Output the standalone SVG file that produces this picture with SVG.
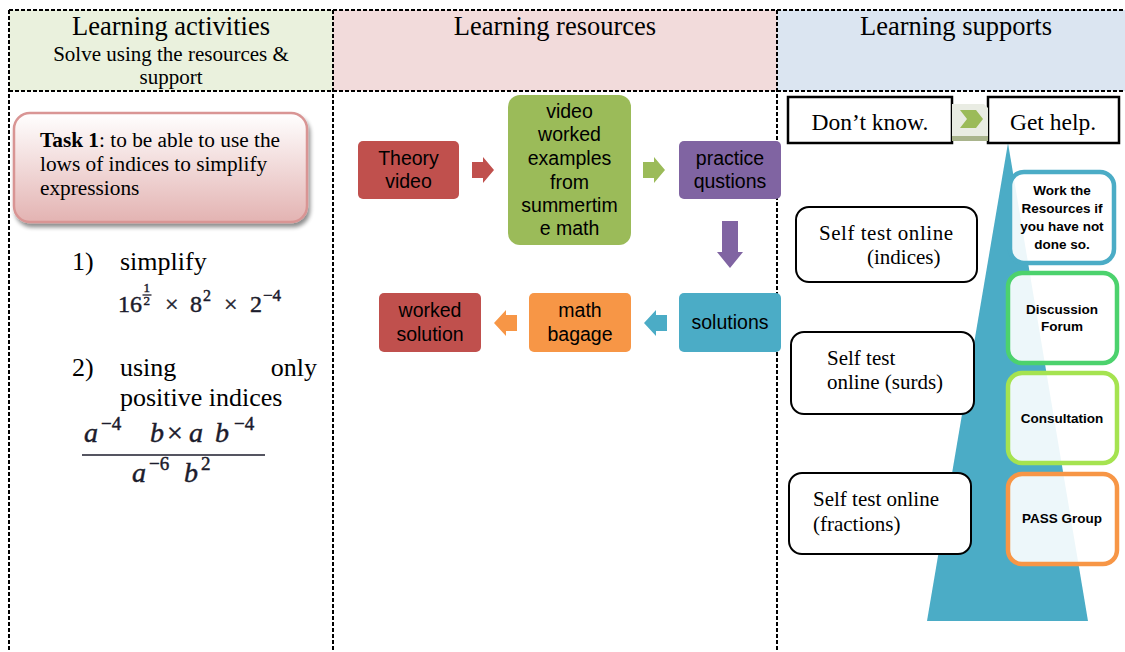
<svg xmlns="http://www.w3.org/2000/svg" width="1125" height="652" viewBox="0 0 1125 652">
<defs>
<linearGradient id="taskGrad" x1="0" y1="0" x2="0" y2="1">
<stop offset="0" stop-color="#FFFFFF"/>
<stop offset="1" stop-color="#E3B3B2"/>
</linearGradient>
<filter id="shadow" x="-10%" y="-10%" width="130%" height="140%">
<feGaussianBlur in="SourceAlpha" stdDeviation="2"/>
<feOffset dx="2" dy="4" result="b"/>
<feComponentTransfer><feFuncA type="linear" slope="0.45"/></feComponentTransfer>
<feMerge><feMergeNode/><feMergeNode in="SourceGraphic"/></feMerge>
</filter>
<style>
.grid{stroke:#000;stroke-width:2;stroke-dasharray:4 2;fill:none}
.ser{font-family:"Liberation Serif","Times New Roman",serif;fill:#000}
.sans{font-family:"Liberation Sans",Arial,sans-serif;fill:#000;font-size:19.5px;text-anchor:middle}
.bold{font-family:"Liberation Sans",Arial,sans-serif;font-weight:bold;font-size:13.5px;fill:#000;text-anchor:middle}
.hdr{font-size:26.5px;text-anchor:middle}
.math{font-family:"Liberation Serif","Times New Roman",serif;fill:#1c1c2c;stroke:#1c1c2c;stroke-width:0.45}
.stbox{fill:#fff;stroke:#000;stroke-width:2}
.sup{fill:#fff;fill-opacity:0.9;stroke-width:4.5}
</style>
</defs>

<!-- table header fills -->
<rect x="9" y="10" width="324" height="81" fill="#EAF1DD"/>
<rect x="333" y="10" width="444" height="81" fill="#F2DBDB"/>
<rect x="777" y="10" width="348" height="81" fill="#DBE5F1"/>

<!-- table grid -->
<g id="grid">
<line class="grid" x1="9" y1="10" x2="1125" y2="10"/>
<line class="grid" x1="9" y1="91" x2="1125" y2="91"/>
<line class="grid" x1="9" y1="10" x2="9" y2="652"/>
<line class="grid" x1="333" y1="10" x2="333" y2="652"/>
<line class="grid" x1="777" y1="10" x2="777" y2="652"/>
</g>

<!-- headers -->
<g id="header-activities">
<text class="ser hdr" x="171" y="35">Learning activities</text>
<text class="ser" x="171" y="61" font-size="21" text-anchor="middle">Solve using the resources &amp;</text>
<text class="ser" x="171" y="84" font-size="21" text-anchor="middle">support</text>
</g>
<g id="header-resources"><text class="ser hdr" x="555" y="35">Learning resources</text></g>
<g id="header-supports"><text class="ser hdr" x="956" y="35">Learning supports</text></g>

<!-- left column -->
<g id="task1">
<rect x="14" y="113" width="293" height="109" rx="16" fill="url(#taskGrad)" stroke="#D99594" stroke-width="2.5" filter="url(#shadow)"/>
<text class="ser" x="40" y="147" font-size="21.3"><tspan font-weight="bold">Task 1</tspan>: to be able to use the</text>
<text class="ser" x="40" y="171" font-size="21.3">lows of indices to simplify</text>
<text class="ser" x="40" y="195" font-size="21.3">expressions</text>
</g>

<g id="question1">
<text class="ser" x="72" y="270" font-size="26">1)</text>
<text class="ser" x="120" y="270" font-size="26">simplify</text>
<g class="math" font-size="24">
<text x="118" y="312">16</text>
<text x="143.5" y="292" font-size="13">1</text>
<line x1="142.5" y1="295" x2="151.5" y2="295" stroke-width="1.3"/>
<text x="143.5" y="305" font-size="13">2</text>
<text x="165" y="312">×</text>
<text x="190" y="312">8</text>
<text x="203" y="301" font-size="16">2</text>
<text x="224" y="312">×</text>
<text x="250" y="312">2</text>
<text x="263" y="301" font-size="17">−4</text>
</g>
</g>

<g id="question2">
<text class="ser" x="72" y="376" font-size="26">2)</text>
<text class="ser" x="120" y="376" font-size="26">using</text>
<text class="ser" x="317" y="376" font-size="26" text-anchor="end">only</text>
<text class="ser" x="120" y="406" font-size="26">positive indices</text>
<g class="math" font-size="28" font-style="italic">
<text x="84" y="442">a</text>
<text x="101" y="430" font-size="19" font-style="normal">−4</text>
<text x="150" y="442">b</text>
<text x="167" y="442" font-style="normal">×</text>
<text x="189" y="442">a</text>
<text x="215" y="442">b</text>
<text x="234" y="430" font-size="19" font-style="normal">−4</text>
<line x1="82" y1="455" x2="265" y2="455" stroke-width="1.6"/>
<text x="132" y="482">a</text>
<text x="149" y="470" font-size="19" font-style="normal">−6</text>
<text x="184" y="482">b</text>
<text x="201" y="470" font-size="19" font-style="normal">2</text>
</g>
</g>

<!-- middle column nodes -->
<g id="theory-video">
<rect x="358" y="141" width="101" height="58" rx="5" fill="#C0504D"/>
<text class="sans" x="408.5" y="165">Theory</text>
<text class="sans" x="408.5" y="188">video</text>
</g>
<g id="video-worked">
<rect x="508" y="95" width="123" height="150" rx="12" fill="#9BBB59"/>
<text class="sans" x="569.5" y="118">video</text>
<text class="sans" x="569.5" y="141">worked</text>
<text class="sans" x="569.5" y="165">examples</text>
<text class="sans" x="569.5" y="189">from</text>
<text class="sans" x="569.5" y="212">summertim</text>
<text class="sans" x="569.5" y="235">e math</text>
</g>
<g id="practice">
<rect x="679" y="141" width="102" height="58" rx="5" fill="#8064A2"/>
<text class="sans" x="730" y="165">practice</text>
<text class="sans" x="730" y="188">qustions</text>
</g>
<g id="solutions">
<rect x="679" y="293" width="102" height="59" rx="5" fill="#4BACC6"/>
<text class="sans" x="730" y="329">solutions</text>
</g>
<g id="math-bagage">
<rect x="529" y="293" width="102" height="59" rx="5" fill="#F79646"/>
<text class="sans" x="580" y="317">math</text>
<text class="sans" x="580" y="341">bagage</text>
</g>
<g id="worked-solution">
<rect x="379" y="293" width="102" height="59" rx="5" fill="#C0504D"/>
<text class="sans" x="430" y="317">worked</text>
<text class="sans" x="430" y="341">solution</text>
</g>

<!-- right column -->
<polygon id="triangle" points="1008,143 1088,621 927,621" fill="#4BACC6"/>

<g id="dont-know">
<rect x="788" y="97" width="164" height="46" fill="#fff" stroke="#000" stroke-width="2.5"/>
<text class="ser" x="870" y="130" font-size="23.5" text-anchor="middle">Don’t know.</text>
</g>
<g id="get-help">
<rect x="988" y="97" width="131" height="46" fill="#fff" stroke="#000" stroke-width="2.5"/>
<text class="ser" x="1053" y="130" font-size="23.5" text-anchor="middle">Get help.</text>
</g>

<g id="self-test-indices">
<rect class="stbox" x="796" y="207" width="181" height="75" rx="13"/>
<text class="ser" x="819" y="240" font-size="21" textLength="134" lengthAdjust="spacing">Self test online</text>
<text class="ser" x="867" y="264" font-size="21">(indices)</text>
</g>
<g id="self-test-surds">
<rect class="stbox" x="791" y="332" width="183" height="82" rx="13"/>
<text class="ser" x="827" y="365" font-size="21">Self test</text>
<text class="ser" x="827" y="389" font-size="21">online (surds)</text>
</g>
<g id="self-test-fractions">
<rect class="stbox" x="789" y="473" width="182" height="81" rx="13"/>
<text class="ser" x="813" y="506" font-size="21">Self test online</text>
<text class="ser" x="813" y="531" font-size="21">(fractions)</text>
</g>

<g id="work-resources">
<rect class="sup" x="1010" y="172" width="104" height="91" rx="14" stroke="#4BACC6"/>
<text class="bold" x="1062" y="195">Work the</text>
<text class="bold" x="1062" y="213">Resources if</text>
<text class="bold" x="1062" y="231">you have not</text>
<text class="bold" x="1062" y="249">done so.</text>
</g>
<g id="discussion-forum">
<rect class="sup" x="1008" y="273" width="109" height="90" rx="14" stroke="#4CD26D"/>
<text class="bold" x="1062" y="314">Discussion</text>
<text class="bold" x="1062" y="331">Forum</text>
</g>
<g id="consultation">
<rect class="sup" x="1008" y="373" width="109" height="90" rx="14" stroke="#A5E350"/>
<text class="bold" x="1062" y="423">Consultation</text>
</g>
<g id="pass-group">
<rect class="sup" x="1008" y="474" width="109" height="90" rx="14" stroke="#F79646"/>
<text class="bold" x="1062" y="523">PASS Group</text>
</g>

<!-- connectors -->
<g id="connectors">
<polygon points="472,162 483,162 483,157 494,170 483,183 483,178 472,178" fill="#C0504D"/>
<polygon points="643,162 654,162 654,157 665,170 654,183 654,178 643,178" fill="#9BBB59"/>
<polygon points="722,221 738,221 738,252 743,252 730,268 717,252 722,252" fill="#8064A2"/>
<polygon points="667,315 656,315 656,310 644,323 656,336 656,331 667,331" fill="#4BACC6"/>
<polygon points="517,315 506,315 506,310 494,323 506,336 506,331 517,331" fill="#F79646"/>
<polygon points="952,104 984,104 988,108 988,140 952,140" fill="#E9ECE3"/>
<polygon points="952,136 988,136 988,141 952,141" fill="#A9B48C"/>
<polygon points="960,110 976,110 983,119 976,128 960,128 967,119" fill="#9BBB59"/>
</g>
</svg>
